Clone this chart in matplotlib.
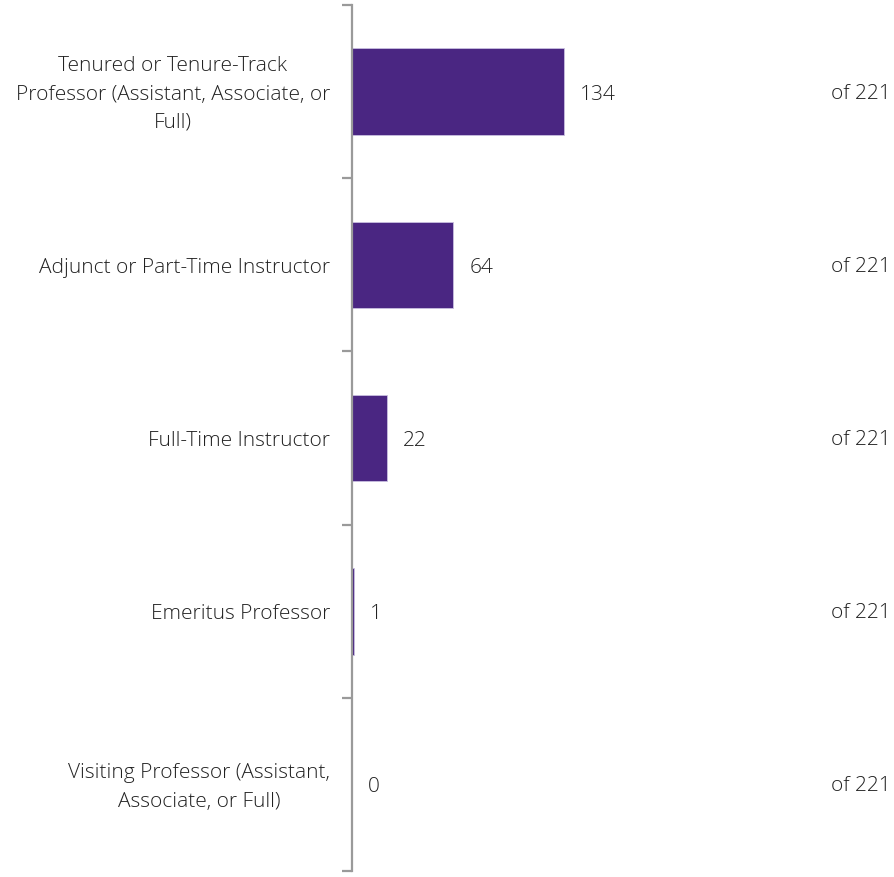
import matplotlib
matplotlib.use("Agg")
import matplotlib.pyplot as plt

categories = [
    "Tenured or Tenure-Track\nProfessor (Assistant, Associate, or\nFull)",
    "Adjunct or Part-Time Instructor",
    "Full-Time Instructor",
    "Emeritus Professor",
    "Visiting Professor (Assistant,\nAssociate, or Full)",
]
counts = [134, 64, 22, 1, 0]
total = 221

bar_color = "#4A2682"
axis_color = "#9A9A9A"
text_color = "#222222"

plt.rcParams["font.family"] = ["Open Sans", "DejaVu Sans"]

fig = plt.figure(figsize=(8.94, 8.78), dpi=100)
ax = fig.add_axes([352 / 894, 6 / 878, 350 / 894, 866 / 878])

n = len(categories)
ypos = list(range(n))
ax.barh(ypos, counts, height=0.5, color=bar_color, edgecolor="#C9BFE0", linewidth=0.6)
ax.set_ylim(n - 0.5, -0.5)
ax.set_xlim(0, total)

for s in ["top", "right", "bottom"]:
    ax.spines[s].set_visible(False)
ax.spines["left"].set_color(axis_color)
ax.spines["left"].set_linewidth(1.6)
ax.set_xticks([])
ax.set_yticks([y + 0.5 for y in range(-1, n)], minor=False)
ax.set_yticklabels([])
ax.tick_params(axis="y", length=7, width=1.6, color=axis_color, direction="out")

for y, label, v in zip(ypos, categories, counts):
    ax.annotate(label, xy=(0, y), xycoords="data", xytext=(-22, -2),
                textcoords="offset pixels", ha="right", va="center",
                multialignment="center", fontsize=15, color=text_color,
                fontweight="light", linespacing=1.55)
    ax.annotate(str(v), xy=(v, y), xycoords="data", xytext=(16, -2),
                textcoords="offset pixels", ha="left", va="center",
                fontsize=15, color=text_color, fontweight="light")
    ax.annotate(f"of {total}", xy=(1, y), xycoords=("figure fraction", "data"),
                xytext=(-3, -1), textcoords="offset pixels", ha="right",
                va="center", fontsize=15, color=text_color, fontweight="light")

fig.savefig("out.png", dpi=100)
